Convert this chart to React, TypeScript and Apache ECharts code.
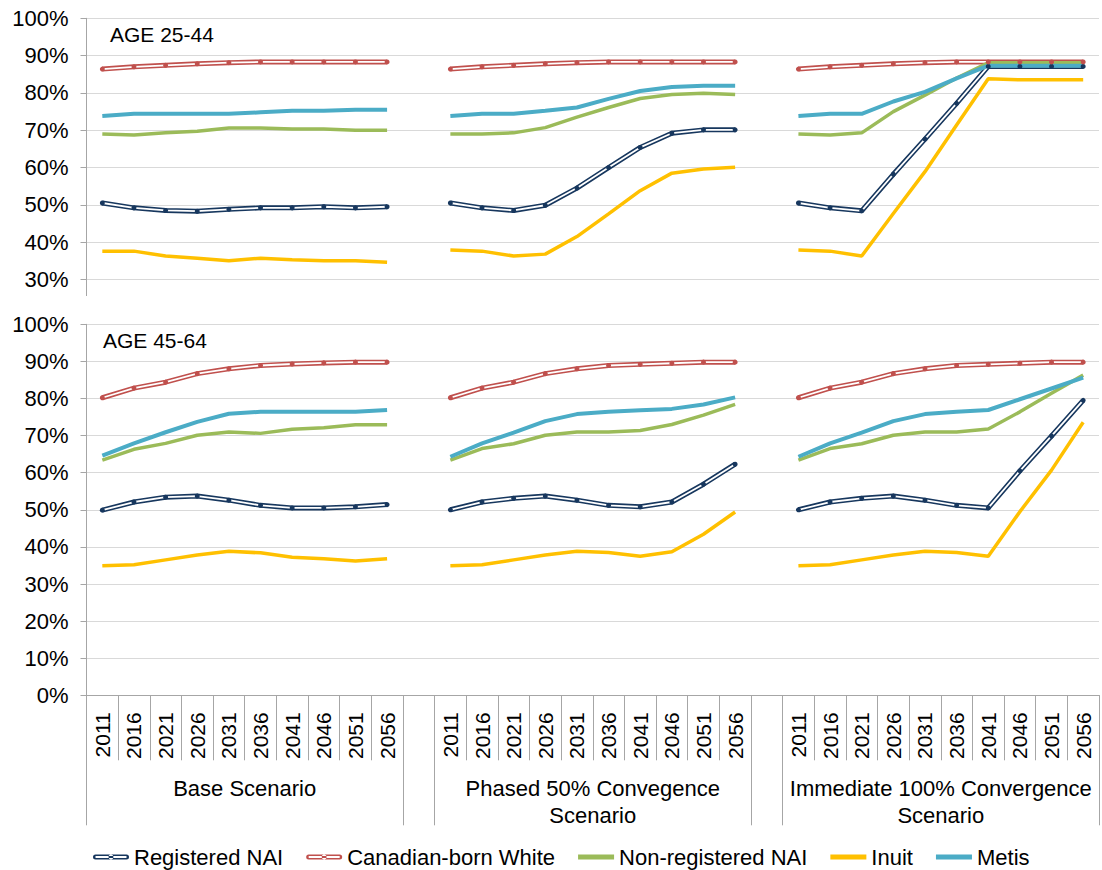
import React, { useEffect, useRef } from "react";
import * as echarts from "echarts";

// ---------- data ----------
const YEARS = ["2011", "2016", "2021", "2026", "2031", "2036", "2041", "2046", "2051", "2056"];
const GROUPS = ["Base Scenario", "Phased 50% Convegence\nScenario", "Immediate 100% Convergence\nScenario"];
const SERIES_NAMES = ["Registered NAI", "Canadian-born White", "Non-registered NAI", "Inuit", "Metis"];

// AGE 25-44 (percent) — base, phased, immediate
const TOP_REG_NAI = [
  [50.5, 49.2, 48.5, 48.3, 48.8, 49.2, 49.2, 49.5, 49.2, 49.5],
  [50.5, 49.2, 48.5, 49.9, 54.5, 60.0, 65.4, 69.2, 70.1, 70.1],
  [50.5, 49.2, 48.4, 58.2, 67.6, 77.2, 87.1, 87.1, 87.1, 87.1],
];
const TOP_CAN_WHITE = [
  [86.4, 87.0, 87.4, 87.8, 88.1, 88.3, 88.3, 88.3, 88.3, 88.3],
  [86.4, 87.0, 87.4, 87.8, 88.1, 88.3, 88.3, 88.3, 88.3, 88.3],
  [86.4, 87.0, 87.4, 87.8, 88.1, 88.3, 88.3, 88.3, 88.3, 88.3],
];
const TOP_NONREG_NAI = [
  [69.0, 68.7, 69.3, 69.7, 70.6, 70.6, 70.3, 70.3, 70.0, 70.0],
  [69.0, 69.0, 69.3, 70.7, 73.5, 76.1, 78.5, 79.6, 79.9, 79.6],
  [69.0, 68.7, 69.3, 75.0, 79.4, 84.0, 88.1, 88.1, 88.1, 88.1],
];
const TOP_INUIT = [
  [37.6, 37.6, 36.3, 35.7, 35.0, 35.7, 35.3, 35.0, 35.0, 34.6],
  [37.9, 37.6, 36.3, 36.8, 41.5, 47.6, 53.8, 58.5, 59.6, 60.1],
  [37.9, 37.6, 36.3, 47.7, 58.9, 71.4, 83.8, 83.5, 83.5, 83.5],
];
const TOP_METIS = [
  [73.8, 74.4, 74.4, 74.4, 74.4, 74.8, 75.2, 75.2, 75.5, 75.5],
  [73.8, 74.4, 74.4, 75.2, 76.1, 78.4, 80.5, 81.6, 81.9, 81.9],
  [73.8, 74.4, 74.4, 77.7, 80.3, 83.9, 87.3, 87.3, 87.3, 87.3],
];

// AGE 45-64 (percent)
const BOT_REG_NAI = [
  [49.9, 52.1, 53.4, 53.7, 52.6, 51.2, 50.5, 50.5, 50.8, 51.4],
  [50.0, 52.1, 53.1, 53.7, 52.6, 51.2, 50.8, 52.1, 56.9, 62.3],
  [50.0, 52.1, 53.1, 53.7, 52.6, 51.2, 50.5, 60.5, 69.9, 79.5],
];
const BOT_CAN_WHITE = [
  [80.2, 82.8, 84.4, 86.7, 88.0, 88.9, 89.3, 89.6, 89.8, 89.8],
  [80.2, 82.8, 84.4, 86.7, 88.0, 88.9, 89.2, 89.5, 89.8, 89.8],
  [80.2, 82.8, 84.4, 86.7, 88.0, 88.9, 89.2, 89.5, 89.8, 89.8],
];
const BOT_NONREG_NAI = [
  [63.4, 66.3, 67.9, 70.1, 71.0, 70.6, 71.7, 72.1, 72.9, 72.9],
  [63.4, 66.5, 67.8, 70.1, 71.0, 71.0, 71.4, 73.0, 75.5, 78.4],
  [63.4, 66.5, 67.8, 70.1, 71.0, 71.0, 71.8, 76.4, 81.4, 86.3],
];
const BOT_INUIT = [
  [34.9, 35.2, 36.5, 37.8, 38.8, 38.4, 37.2, 36.8, 36.2, 36.8],
  [34.9, 35.2, 36.5, 37.8, 38.8, 38.5, 37.5, 38.7, 43.4, 49.4],
  [34.9, 35.2, 36.5, 37.8, 38.8, 38.5, 37.5, 49.5, 60.7, 73.6],
];
const BOT_METIS = [
  [64.6, 67.9, 70.9, 73.7, 75.9, 76.4, 76.4, 76.4, 76.4, 76.9],
  [64.3, 67.9, 70.8, 73.9, 75.8, 76.4, 76.8, 77.2, 78.4, 80.3],
  [64.3, 67.9, 70.8, 73.9, 75.8, 76.4, 76.9, 79.8, 82.7, 85.6],
];

const TOP_Y_TICKS = { min: 30, max: 100, interval: 10 };
const BOT_Y_TICKS = { min: 0, max: 100, interval: 10 };

// ---------- styles ----------
const COLORS = ["#17375E", "#C0504D", "#9BBB59", "#FFC000", "#4BACC6"];
const FONT = "'Liberation Sans', Arial, sans-serif";
const GRID_COLOR = "#d9d9d9";
const AXIS_COLOR = "#a6a6a6";

// categories: 3 groups of years separated by an empty category
const CATEGORIES: string[] = [];
GROUPS.forEach((_, g) => {
  if (g > 0) CATEGORIES.push(`gap-${g}`);
  YEARS.forEach((y) => CATEGORIES.push(`${g}-${y}`));
});
const flatten = (groups: number[][]) => {
  const out: (number | null)[] = [];
  groups.forEach((arr, g) => {
    if (g > 0) out.push(null);
    arr.forEach((v) => out.push(v));
  });
  return out;
};

const DOUBLE_ICON =
  "path://M2.5,0 H33.5 A2.5,2.5 0 0 1 33.5,5 H2.5 A2.5,2.5 0 0 1 2.5,0 Z " +
  "M2.5,1.6 V3.4 H33.5 V1.6 Z " +
  "M15.5,2.5 A2.5,2.5 0 1 0 20.5,2.5 A2.5,2.5 0 1 0 15.5,2.5 Z";

export default function App() {
  const ref = useRef<HTMLDivElement>(null);
  useEffect(() => {
    if (!ref.current) return;
    const chart = echarts.init(ref.current, null, { renderer: "svg" });

    const panels = [
      [TOP_REG_NAI, TOP_CAN_WHITE, TOP_NONREG_NAI, TOP_INUIT, TOP_METIS],
      [BOT_REG_NAI, BOT_CAN_WHITE, BOT_NONREG_NAI, BOT_INUIT, BOT_METIS],
    ];
    const series: any[] = [];
    panels.forEach((panel, p) => {
      panel.forEach((groups, i) => {
        const data = flatten(groups);
        const name = SERIES_NAMES[i];
        const double = i < 2;
        if (double) {
          series.push({
            type: "line", name, data, xAxisIndex: p === 0 ? 0 : 1, yAxisIndex: p,
            symbol: "none", lineStyle: { color: COLORS[i], width: 5 }, itemStyle: { color: COLORS[i] },
          });
          series.push({
            type: "line", name: name + " (inner)", data, xAxisIndex: p === 0 ? 0 : 1, yAxisIndex: p,
            symbol: "circle", symbolSize: 5, showSymbol: true, showAllSymbol: true,
            lineStyle: { color: "#ffffff", width: 1.8 }, itemStyle: { color: COLORS[i], borderWidth: 0 },
          });
        } else {
          series.push({
            type: "line", name, data, xAxisIndex: p === 0 ? 0 : 1, yAxisIndex: p,
            symbol: "none", lineStyle: { color: COLORS[i], width: i === 4 ? 4 : 3.5 }, itemStyle: { color: COLORS[i] },
          });
        }
      });
    });

    const yAxisBase = (t: { min: number; max: number; interval: number }, gridIndex: number) => ({
      type: "value", gridIndex, min: t.min, max: t.max, interval: t.interval,
      axisLine: { show: true, lineStyle: { color: AXIS_COLOR, width: 1 } },
      axisTick: { show: true, length: 6, lineStyle: { color: AXIS_COLOR } },
      splitLine: { show: true, lineStyle: { color: GRID_COLOR, width: 1 } },
      axisLabel: { formatter: "{value}%", fontSize: 22, color: "#000", fontFamily: FONT, margin: 18 },
    });

    const groupCenters = GROUPS.map((_, g) => g * (YEARS.length + 1) + YEARS.length / 2);
    const groupBounds: number[] = [];
    GROUPS.forEach((_, g) => {
      groupBounds.push(g * (YEARS.length + 1));
      groupBounds.push(g * (YEARS.length + 1) + YEARS.length);
    });

    chart.setOption({
      animation: false,
      textStyle: { fontFamily: FONT },
      grid: [
        { left: 86.5, right: 3, top: 18.3, height: 261.2 },
        { left: 86.5, right: 3, top: 324.3, height: 371 },
      ],
      xAxis: [
        { type: "category", gridIndex: 0, data: CATEGORIES, show: false },
        {
          type: "category", gridIndex: 1, data: CATEGORIES, position: "bottom",
          axisLine: { show: true, lineStyle: { color: AXIS_COLOR } },
          axisTick: { show: true, interval: 0, length: 65, lineStyle: { color: AXIS_COLOR } },
          axisLabel: {
            interval: 0, rotate: 90, margin: 17, fontSize: 21, color: "#000", fontFamily: FONT,
            formatter: (v: string) => (v.startsWith("gap") ? "" : v.split("-")[1]),
          },
          splitLine: { show: false },
        },
        {
          type: "value", gridIndex: 1, position: "bottom", min: 0, max: CATEGORIES.length,
          axisLine: { show: false },
          splitLine: { show: false },
          axisTick: { show: true, length: 130, customValues: groupBounds, lineStyle: { color: AXIS_COLOR } },
          axisLabel: {
            customValues: groupCenters, margin: 80, fontSize: 22, lineHeight: 27, color: "#000", fontFamily: FONT,
            formatter: (v: number) => {
              const idx = groupCenters.indexOf(v);
              return idx >= 0 ? GROUPS[idx] : "";
            },
          },
        },
      ],
      yAxis: [yAxisBase(TOP_Y_TICKS, 0), yAxisBase(BOT_Y_TICKS, 1)],
      legend: {
        left: 88, top: 841, itemWidth: 36, itemHeight: 5, itemGap: 23,
        textStyle: { fontSize: 22, color: "#000", fontFamily: FONT },
        itemStyle: { borderWidth: 0 },
        data: SERIES_NAMES.map((n, i) => ({ name: n, icon: i < 2 ? DOUBLE_ICON : "rect" })),
      },
      graphic: [
        { type: "text", left: 110, top: 24, style: { text: "AGE 25-44", fontSize: 21, fill: "#000", fontFamily: FONT } },
        { type: "text", left: 103, top: 330, style: { text: "AGE 45-64", fontSize: 21, fill: "#000", fontFamily: FONT } },
        { type: "line", shape: { x1: 86.5, y1: 279.5, x2: 86.5, y2: 296 }, style: { stroke: AXIS_COLOR, lineWidth: 1 } },
      ],
      series,
    });
    return () => chart.dispose();
  }, []);
  return <div ref={ref} style={{ position: "absolute", left: 0, top: 0, width: 1102, height: 870 }} />;
}
